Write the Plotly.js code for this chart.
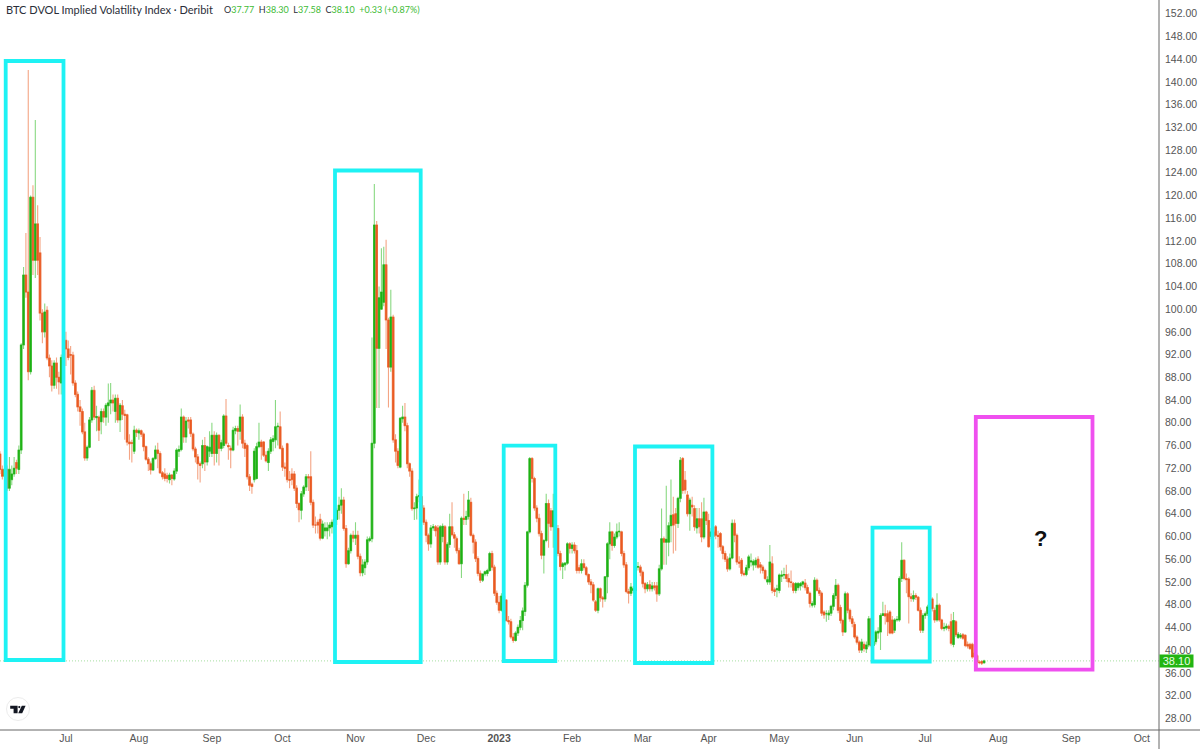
<!DOCTYPE html>
<html><head><meta charset="utf-8">
<script src="https://cdn.plot.ly/plotly-3.0.1.min.js"></script>
<style>html,body{margin:0;padding:0;background:#fff}#c{width:1200px;height:749px}</style>
</head><body><div id="c"></div>
<script>
const startDate = Date.UTC(2022,5,3);
const opens = [
74.5,71.8,70.6,71.8,68.5,70,71,73,71.8,75.2,
93.7,106,103,89,119.7,108.6,115,109.9,99.3,96,
99.8,91.4,90,86.6,90.5,88,87,91.4,94.5,93,
92,91.9,87,85,82.8,82,78.4,73.8,75.7,80.5,
85.7,80.9,81,80.2,82,81,83,83.5,84,82,
84.3,80.5,83,81.5,81.4,76.6,76.5,75,78.7,78.2,
78.6,78,75.8,73.6,72.8,71.7,73.7,75.2,74.6,71.2,
71,70.7,70,70.8,70.1,71.5,75,75.3,81,77.5,
80.5,80.5,78,75.4,74,72.8,72.8,76,73.1,75,
74.6,77.8,74.6,77.8,75.5,76,81.2,76,75.5,75.2,
78.6,79,78.5,81,76.4,76,70.5,69.2,70,70.2,
75.8,76.6,76.6,74.3,73,75,76.7,77,79.3,79.3,
75.5,72.2,76.3,70,71,71,68.5,65.8,64.6,67.5,
68.7,70.5,70.5,66,62,62.5,63,59.7,61,61,
61.5,61.7,62,63,64.6,65.5,66.4,61.4,55.2,57.5,
60.2,59.7,60.2,56.5,53.6,54.5,55.5,59.3,59.6,76.4,
114.8,93.1,100,101.2,107.8,98.1,89.8,98.6,77,75,
72.2,80.7,81,79.5,72.8,71.5,64.9,65,67,67,
65,62.5,60.2,58.7,61.5,61.7,61.5,55.5,60,61.7,
55.5,58.6,61.7,60.3,59.6,57.5,55.2,63.2,63,63.5,
66,60.2,59,56.1,53.5,52.3,53.4,53.5,54,57,
54.6,50,48.4,47,49.5,48.8,45.2,45,42.3,41.7,
43,44,45.2,46.8,51.4,60.8,73.7,70.2,65,63.2,
60.5,56.7,59.3,65.8,64.5,61.7,62,61.4,57,54.7,
55,55.3,58.7,57.9,58.5,57.5,54.5,54,55.2,54.5,
53.3,52,51.5,48.5,47,50.8,49.2,49,52.9,58.7,
60.8,58.4,59.9,60.8,60.8,57,55,50.3,50,50.5,
50.5,54.6,54.6,53.7,51.7,50.8,51.5,50.8,51.3,51.3,
49.9,54.3,59.6,59,59,61.9,63.8,64,62.3,66.7,
73.7,69.9,67.3,64,65.5,64.9,61.5,63.1,63.1,59.9,
64.3,62.8,60,60.8,61.7,60.2,60.5,58.2,57,56,
54.3,56.2,62.3,60.2,55.5,55.8,53.5,53.3,54.5,55.5,
55,55,56,55,54.6,54,52,52,55.2,50.6,
50.6,50.5,53,53.2,53.3,52.6,52,51.7,50.5,51,
51.3,51.6,51.8,51,50,47.9,48,52.3,50.5,50,
46.7,46.4,46.2,46.5,47.7,49.6,51.4,47.5,45.2,43.2,
49.9,47,45.5,44.5,42.3,41.4,40,41,40.2,40.9,
45.5,40.8,41.5,43,43.2,46.1,46.4,46.4,46.7,45.3,
43.5,45.3,45.3,52.6,55.8,52.6,52.5,49.4,49,49.6,
49.3,47,43.5,46.1,46.4,47.5,49,47,45.3,47.9,
45.3,43.8,43.9,44.2,45,41,45,42.2,42.3,42.7,
42.6,41,41,41,39.5,39,37.9,38,37.77];
const closes = [
71.8,70.6,71.8,68.5,71.8,71,72,72,75.2,93.7,
106,103,89,119.7,108.6,115,108.6,99.3,96,99.5,
91.4,90,86.6,90.5,88,87.2,91.5,94,93,91.5,
91.9,87,85,82.8,82,78.4,73.8,75.7,80.5,85.7,
81,81.1,78.7,82,81,83.1,83.5,84,83.5,84.3,
80.5,83.1,81.5,81.3,76.6,76.3,76.4,78.7,78.3,78.6,
78,75.8,73.6,72.8,71.7,73.7,75.2,74.6,71.2,70.5,
70.2,70.2,70.8,70.2,71.5,75.2,75.3,81,77.5,80.3,
80.3,78.1,75.4,74,72.8,72.5,76,73.1,75.8,75.7,
77.8,74.6,77.8,75.5,76.5,81.2,76.4,75.8,75.2,78.7,
79,78.5,81,76.4,75.5,70.5,69,68.8,75,75.8,
76.6,75.8,74.3,73.3,75,77,77.2,79.3,79.4,75.5,
72.2,72,70,69.9,70,68.5,65.8,64.7,67.5,68.7,
70.5,70.3,66,62,62,62,59.7,62.2,61.5,61.5,
62,62.5,63,64.6,65.5,66.4,61.4,55.2,57.5,60.2,
59.7,60.2,56.5,53.6,55,55.5,59.4,59.6,76.4,114.8,
93.1,102,103,107.8,98.1,89.8,98.6,77,75,72.5,
80.8,81,79.5,72.8,71.5,64.9,65,67,67.2,65,
62.5,60.2,58.7,61.5,61.7,61,55.5,61.7,61.8,55.5,
58.6,61.7,60.3,59.7,57.5,55.2,63.2,63,63.5,66.4,
60.2,59,56.1,53.5,52.3,53.4,53.8,54,57,54.6,
50,48.4,47,49.5,47.8,45.2,45,42.3,41.7,43,
44,45.2,46.9,51.4,60.8,73.7,70.2,65,63.2,60.5,
56.7,59.3,65.8,62.3,61.7,64.5,61.4,57,54.7,55.2,
55.3,58.7,57.9,58.5,57.5,54,54,55.2,54.5,53.3,
52,51.5,48.8,47,50.8,49.2,49,52.9,58.7,60.8,
58.4,59.9,60.8,60.9,57,55,50.3,50,51.1,50.8,
54.6,54.7,53.7,51.7,50.8,51.5,50.8,51.3,51,49.9,
54.3,59.6,59,59.5,61.9,63.7,62,62.3,66.7,73.4,
68.1,68.2,64,66.4,65.2,61.7,63.1,61.7,59.9,64.3,
62.8,58.2,60.8,60,60.2,60,58.2,57,56,54.3,
56.2,62.3,60.2,55.5,55.3,53.5,53.3,54.5,56.4,55.7,
55.6,55.8,54.6,54.6,54,52.6,52.4,55.5,50.5,50.3,
50.8,53.2,53.2,53.3,52.6,52,51.9,50.5,51.7,51.7,
51.7,52,51,50,48.2,48.2,52.3,50.5,50,46.5,
46.2,46.4,46.5,47.7,49.6,51.4,47,45.2,43.2,49.9,
47,45.5,44.7,42.3,41.4,40,41.4,40.3,40.9,45.5,
40.8,41.5,43.2,43.3,46.1,46.4,46,45,43,43,
45.3,45.4,52.6,55.8,52.6,52.4,49.4,49.1,49.6,49.3,
47,43.5,46.1,46.4,47.6,48,47.3,45.3,47.9,45.3,
43.8,44,44.2,43.8,41.2,45.2,42.7,42.8,42.6,42.1,
40.8,40.7,40.3,38.8,38.8,37.9,37.8,37.7,38.10];
const highs = [
75,72.5,72.5,72.5,74,72.5,74,73.5,76,94,
107.4,113.4,142.1,120,121.8,133.3,118.3,112.7,100,101,
100.5,92,91,91,91.5,89,92,94.5,96,94.5,
93.5,92.5,87.5,85.5,84,82.5,80,76,81,86.3,
86.5,83,81.3,82.5,82.5,83.5,86.9,87,85,85,
85,83.5,84,82.3,81.6,78,77,79.5,79,79,
78.8,78.3,76,74,73.2,74,76,76.5,75,71.5,
72,71.2,71.2,71,72,75.5,76,82.5,81.3,81,
81,81,78.3,75.8,74.5,73.2,77,77.5,76,78.5,
80,78.5,78.3,78,77,81.5,84.2,76.5,76,79.3,
79.5,79.5,83.2,81.5,77,76.3,71,69.5,75.5,76.5,
80,77,76.8,75,75.5,77.5,77.8,84,80,82,
76,73,76.5,71.5,72,71.5,69,66,68,69,
71,71,75,66.5,63.5,63,64,62.8,62.5,62.5,
62.5,63,64,65,67,68.5,67,62,58,60.5,
61,62.5,61,57,56,56,60,60,95,122,
115.5,104,110.7,111,112.2,98.5,103.4,99,78,75.5,
81,83,83.5,80,73,72,66,67.5,70,67.5,
65.5,63,60.5,62,62.2,62,62,62,62.3,62,
59,64,66,60.8,60,58,63.5,67.5,64.5,68,
66.8,60.5,59.5,56.5,54,53.5,54,54.3,57.3,57.5,
55,50.5,49.5,50,50,49,46,45.5,43,43.3,
44.5,46,47.5,52,61,74,74,70.5,65.5,64,
61,59.5,67.5,66.5,65,67.5,62.5,62,57.5,55.5,
55.5,59,59,59,59,58.5,55,56,56,54.8,
53.5,52.5,52,48.8,51,51,49.5,53,59,62.5,
61,60.5,62.3,62.5,61,57.5,55.5,50.8,51.8,51.3,
55,55.5,55,54,52,52,52.3,52,52,52,
55,64.9,60,68.9,62.5,70,67,65,67,74,
74,71.5,68,66.8,67,65.5,65,65,66,66.8,
64.5,64,61.5,61.5,62,61,60.8,58.5,57.5,56.5,
57,63,63,60.5,56.5,56.2,54,55,56.8,57,
56,56.3,56.5,55.5,55,54.3,53,58.5,56.5,51,
51.5,53.5,54,54.5,55,53.5,54,52,52,52,
52,52.2,52.5,51.5,50.3,48.6,52.8,52.6,51,50.3,
47,47,47,48,50,52.5,51.7,48,45.5,50.3,
50.2,47.3,46,45,42.6,41.7,42,41.5,41.5,46,
45.7,42,43.5,44,46.5,48.5,48,47,47,46,
45.6,46,53,59,56,53.5,52.8,50,50.5,50,
49.5,47.5,46.5,46.8,48,49,49.3,47.5,50,48.2,
45.5,44.8,44.7,44.5,46.4,46.7,45.3,43.2,43,43,
42.8,41.5,41.3,41.3,40,39.3,38.2,38.2,38.3];
const lows = [
71,70,70,68,68,69,70.5,71,71,74.5,
93,102,87.5,88.5,106,105.5,106,98,94,95,
91,88,85.5,86,86,85,85,91,90,91,
88.5,86.5,84.5,82,79.5,78,73.3,73.3,75.5,80,
80.5,78.5,76.8,78,80,79.5,80,81.5,82,80,
80,78.4,80.5,77,76,73.5,73,74.5,77.5,77,
77.5,75,73.3,71.5,70.9,71.5,73.5,72,71,70,
69.7,69.5,69.3,69,69.8,71,74,75,76.5,76.5,
79,77.5,75,73,70,69.5,72,71.5,72.5,74,
74,72.5,73,72.5,75,75.5,76,73.5,72,75,
78,76,77,75.5,74,70,68,67.5,69.5,70,
75.5,73.5,74,73,71.5,74.5,75,75.5,76,75.3,
71.5,70.5,69.5,68.5,69,68,65,62.5,63,67,
68,68,65.5,61.5,60.5,60.5,59.3,59.5,60,59.5,
60,60.5,59.5,62,63,64,61,54.5,55,57,
59,58.5,56,53,53,53.2,55,59,59,75.5,
82.6,82.6,100,100.5,93,82.7,89,76.5,73,72,
72,80,78.5,72,70.5,64.5,62.9,63,66,64.5,
62,59,57.5,58,61,60,55,55,59,55,
55,58,60,58,57,55,52.7,62,62,63,
60,57,55.5,53,51.8,52,53,53,53.8,54,
49.5,48,46.5,46.8,47,45,44.5,42,41.3,41.5,
42.5,43.5,43.5,46,51,60.5,69.5,64.5,62.5,60,
56,53.5,59,58,61,58,60.8,56.5,54,52.5,
54,55,57,57,57,53.5,53.5,53.5,54,53,
51.5,50,48.5,46.7,46.5,48.5,47.5,48.5,50,56,
57.5,58,59.5,60,56.5,54.5,50,48.2,49.5,50,
50,54,53,51,50,50.3,50.3,50.3,50.5,48.5,
49.5,54,55,55,56.5,59,57,57.5,61.5,66,
67.5,67.5,63.5,61,63.5,61,60.5,60.5,59,59.5,
62,58,59.5,59.5,59.5,58,57.5,56,55.5,53.8,
54,56,59,55,54.5,53,53,53,54,54.7,
54,54.5,54.3,53.5,53.5,52.3,51.5,51.5,50,49.5,
49.3,50,52,52.5,52,51,51,50,50,50.5,
50.5,51,50.5,50,47.5,47.5,47.5,50.3,49.5,46,
45.5,45,45.3,46,47,49,46.5,44.7,42.5,43,
46.5,45,44,42,41,39.5,39.5,39.7,39.5,40.5,
40.5,40.5,41,42,40,46,44.5,42.5,42.8,42.8,
43,45,45,52,52.3,50,44.7,48.5,48.5,48.8,
46.8,43,43,45.5,46,47,46.8,44.8,45,45,
43.5,43.3,43.5,43.3,40.8,40.5,42.3,42,42,41.8,
40.5,40.3,40,38.5,38.5,36.5,37.5,37.4,37.58];
const lastPrice = 38.10;
const monthTickDates = ['2022-07-01','2022-08-01','2022-09-01','2022-10-01','2022-11-01','2022-12-01','2023-01-01','2023-02-01','2023-03-03','2023-03-31','2023-04-30','2023-06-01','2023-07-01','2023-08-01','2023-09-01','2023-10-01'];
const monthTickLabels = ['Jul','Aug','Sep','Oct','Nov','Dec','<b>2023</b>','Feb','Mar','Apr','May','Jun','Jul','Aug','Sep','Oct'];
const priceTicks = [28,32,36,40,44,48,52,56,60,64,68,72,76,80,84,88,92,96,100,104,108,112,116,120,124,128,132,136,140,144,148,152];
// highlight boxes: [left, right, top, bottom] in picture pixels
const cyanBoxes = [[5.7,63.5,61,660],[335,420.7,170.5,662],[503.7,555.3,445.7,661],[635,712.4,446.5,663],[872.5,929.7,527.7,661.5]];
const magentaBox = [975.8,1092.5,417,669.7];

const W=1159,H=730;
const px=x=>x/W, py=y=>1-y/H;
const dates=opens.map((_,i)=>new Date(startDate+i*864e5).toISOString().slice(0,10));
const green='#1fb215', orange='#ea5a22', gw='#8ad983', ow='#f4a585';
const traces=[
 {type:'candlestick',x:dates,open:opens,high:highs,low:lows,close:closes,
  increasing:{line:{color:gw,width:1.1},fillcolor:gw},decreasing:{line:{color:ow,width:1.1},fillcolor:ow},hoverinfo:'skip'},
 {type:'candlestick',x:dates,open:opens,close:closes,
  high:opens.map((o,i)=>Math.max(o,closes[i])),low:opens.map((o,i)=>Math.min(o,closes[i])),
  increasing:{line:{color:green,width:0.6},fillcolor:green},decreasing:{line:{color:orange,width:0.6},fillcolor:orange},hoverinfo:'skip'}
];
const rect=(b,c)=>({type:'rect',xref:'paper',yref:'paper',x0:px(b[0]),x1:px(b[1]),y0:py(b[3]),y1:py(b[2]),line:{color:c,width:3.8},fillcolor:'rgba(0,0,0,0)',layer:'above'});
const P=(x,y)=>px(x).toFixed(5)+' '+py(y).toFixed(5);
const pathShape=(d,fill)=>({type:'path',xref:'paper',yref:'paper',path:d,fillcolor:fill,line:{width:0},layer:'above'});
const shapes=[
 {type:'line',xref:'paper',yref:'y',x0:0,x1:1,y0:lastPrice,y1:lastPrice,line:{color:'#a5dfa0',width:1,dash:'1px,2px'},layer:'below'},
 ...cyanBoxes.map(b=>rect(b,'#1ef2f4')),
 rect(magentaBox,'#ef50ef'),
 {type:'line',xref:'paper',yref:'paper',x0:1,x1:1,y0:py(749),y1:1,line:{color:'#666',width:1}},
 {type:'line',xref:'paper',yref:'paper',x0:0,x1:px(1200),y0:py(730),y1:py(730),line:{color:'#666',width:1}},
 {type:'circle',xref:'paper',yref:'paper',x0:px(6.5),x1:px(29.5),y0:py(720.5),y1:py(697.5),fillcolor:'#fff',line:{color:'#ececec',width:1},layer:'above'},
 pathShape(`M ${P(10.2,705.8)} L ${P(17.6,705.8)} L ${P(17.6,713.2)} L ${P(13.6,713.2)} L ${P(13.6,708.8)} L ${P(10.2,708.8)} Z`,'#131722'),
 {type:'circle',xref:'paper',yref:'paper',x0:px(18.2),x1:px(20.4),y0:py(708.2),y1:py(706),fillcolor:'#131722',line:{width:0},layer:'above'},
 pathShape(`M ${P(21.8,705.8)} L ${P(25.6,705.8)} L ${P(22.2,713.2)} L ${P(18.2,713.2)} Z`,'#131722')
];
const headerFont='Lato, "Noto Sans", sans-serif';
const g=s=>`<span style="color:#3dbb35">${s}</span>`;
const annotations=[
 {xref:'paper',yref:'paper',x:px(4),y:py(9),xanchor:'left',yanchor:'middle',showarrow:false,text:'BTC DVOL Implied Volatility Index · Deribit',font:{family:headerFont,size:11,color:'#2a2e39'}},
 {xref:'paper',yref:'paper',x:px(222),y:py(9),xanchor:'left',yanchor:'middle',showarrow:false,
  text:`O${g('37.77')}  H${g('38.30')}  L${g('37.58')}  C${g('38.10')}  ${g('+0.33 (+0.87%)')}`,font:{family:headerFont,size:9,color:'#2a2e39'}},
 {xref:'paper',yref:'paper',x:px(1040),y:py(538),xanchor:'center',yanchor:'middle',showarrow:false,text:'<b>?</b>',font:{family:'"Liberation Sans",sans-serif',size:22,color:'#111'}},
 {xref:'paper',yref:'y',x:1,y:lastPrice,xanchor:'left',yanchor:'middle',showarrow:false,text:lastPrice.toFixed(2),bgcolor:'#22b512',borderpad:0,width:33,height:12,align:'center',font:{family:'"Liberation Sans",sans-serif',size:11,color:'#e8ffe4'}}
];
const layout={
 width:1200,height:749,margin:{l:0,r:41,t:0,b:19},paper_bgcolor:'#fff',plot_bgcolor:'#fff',showlegend:false,
 boxmode:'overlay',boxgap:0.05,hovermode:false,
 xaxis:{type:'date',range:['2022-06-03 00:00','2023-10-08 07:00'],rangeslider:{visible:false},showgrid:false,zeroline:false,ticks:'',
   tickmode:'array',tickvals:monthTickDates,ticktext:monthTickLabels,tickangle:0,tickfont:{family:'"Liberation Sans",sans-serif',size:10.5,color:'#555'},showline:false},
 yaxis:{side:'right',range:[25.94,154.4],showgrid:false,zeroline:false,ticks:'',tickmode:'array',tickvals:priceTicks,ticktext:priceTicks.map(v=>v.toFixed(2)),
   tickfont:{family:'"Liberation Sans",sans-serif',size:10.5,color:'#555'},showline:false,ticklabelstandoff:5},
 shapes,annotations
};
Plotly.newPlot('c',traces,layout,{displayModeBar:false,staticPlot:true});
</script></body></html>
